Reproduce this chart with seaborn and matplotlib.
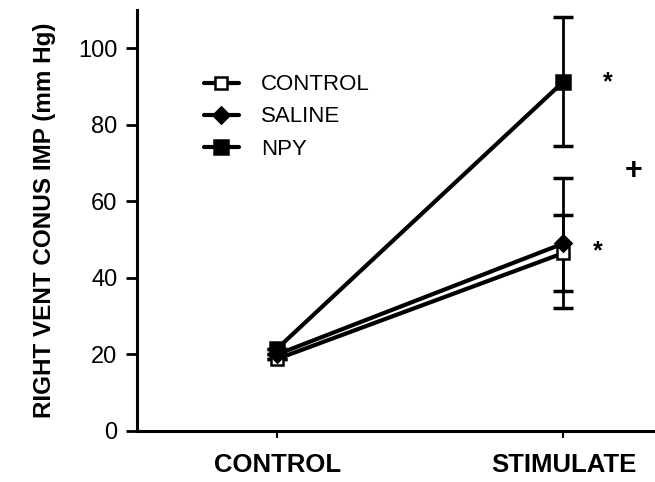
import numpy as np
import pandas as pd
import matplotlib
matplotlib.use("Agg")
import matplotlib.pyplot as plt
import seaborn as sns

conditions = ["CONTROL", "STIMULATE"]
groups = ["CONTROL", "SALINE", "NPY"]
control_vals = [18.8, 46.5]
saline_vals = [20.0, 49.0]
npy_vals = [21.5, 91.3]
control_err = [0, 10.0]
saline_err = [0, 17.0]
npy_err = [0, 16.8]
yticks = [0, 20, 40, 60, 80, 100]

sns.set_theme(style="ticks")
plt.rcParams['font.family'] = ['Liberation Sans', 'DejaVu Sans']
plt.rcParams['text.color'] = 'black'
plt.rcParams['xtick.color'] = 'black'
plt.rcParams['ytick.color'] = 'black'
plt.rcParams['axes.labelcolor'] = 'black'

fig = plt.figure(figsize=(6.55, 4.82), dpi=100)
ax = fig.add_axes([0.209, 0.106, 0.791, 0.873])

xpos = np.arange(len(conditions))
vals = {"CONTROL": control_vals, "SALINE": saline_vals, "NPY": npy_vals}
errs = {"CONTROL": control_err, "SALINE": saline_err, "NPY": npy_err}
styles = {
    "CONTROL": dict(marker="s", markerfacecolor="white", markersize=9, zorder=3),
    "SALINE": dict(marker="D", markerfacecolor="black", markersize=8, zorder=4),
    "NPY": dict(marker="s", markerfacecolor="black", markersize=10, zorder=2),
}

rows = []
for g in groups:
    for i, c in enumerate(conditions):
        rows.append(dict(group=g, x=xpos[i], y=vals[g][i], err=errs[g][i]))
df = pd.DataFrame(rows)

for g in groups:
    sub = df[df.group == g]
    ax.errorbar(sub.x, sub.y, yerr=sub.err, fmt="none", ecolor="black",
                elinewidth=2, capsize=7, capthick=2.5, zorder=1)
    sns.lineplot(data=sub, x="x", y="y", ax=ax, color="black", linewidth=3,
                 markeredgecolor="black", markeredgewidth=1.8, label=g,
                 **styles[g])

ax.annotate("*", xy=(1.155, 91), fontsize=18, fontweight="bold", ha="center", va="center")
ax.annotate("*", xy=(1.12, 47), fontsize=18, fontweight="bold", ha="center", va="center")
ax.annotate("+", xy=(1.245, 68), fontsize=22, fontweight="bold", ha="center", va="center")

ax.set_xlim(-0.49, 1.32)
ax.set_ylim(0, 110)
ax.set_xticks(xpos)
ax.set_xticklabels(conditions, fontsize=18.5, fontweight="bold")
ax.set_yticks(yticks)
ax.set_yticklabels([str(v) for v in yticks], fontsize=17)
ax.set_xlabel("")
ax.set_ylabel("RIGHT VENT CONUS IMP (mm Hg)", fontsize=17.5, fontweight="bold", labelpad=16)
ax.tick_params(axis="y", length=8, width=2, pad=6)
ax.tick_params(axis="x", length=5, width=1.5, pad=11)
for s in ["left", "bottom"]:
    ax.spines[s].set_linewidth(2.2)
    ax.spines[s].set_color("black")
sns.despine(ax=ax)

leg = ax.legend(loc="upper left", bbox_to_anchor=(0.09, 0.895), frameon=False,
                fontsize=16, handlelength=1.6, labelspacing=0.5, handletextpad=1.0)

fig.savefig("out.png", dpi=100)
